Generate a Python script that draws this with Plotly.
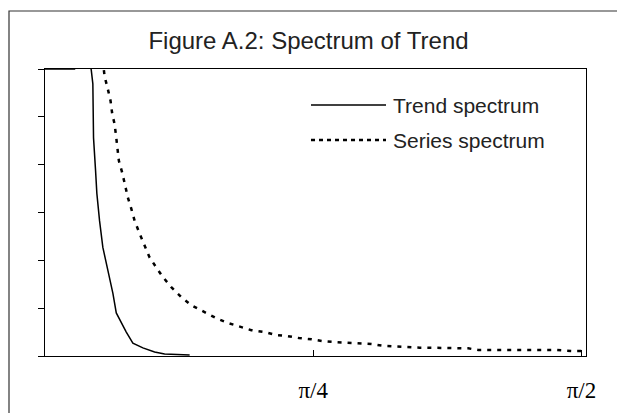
import math
import plotly.graph_objects as go

# frequency (radians) and spectral density
trend_freq = [0.000, 0.0865, 0.110, 0.1354, 0.1401, 0.1421, 0.1480, 0.1518, 0.1597, 0.1694,
              0.1841, 0.1988, 0.2087, 0.2233, 0.2380, 0.2573, 0.2866, 0.3209, 0.3502, 0.4235]
trend_spec = [6.0, 6.0, 7.0, 5.98, 5.69, 4.56, 3.88, 3.40, 2.83, 2.27,
              1.79, 1.31, 0.90, 0.69, 0.50, 0.27, 0.17, 0.083, 0.042, 0.02]

series_freq = [0.1627, 0.1744, 0.1840, 0.1920, 0.1969, 0.2037, 0.2087, 0.2163, 0.2262, 0.2350,
               0.2427, 0.2526, 0.2623, 0.2769, 0.2916, 0.3062, 0.3259, 0.3452, 0.3698, 0.3991,
               0.4285, 0.4624, 0.5017, 0.5357, 0.5680, 0.6043, 0.6433, 0.6755, 0.7069, 0.7438,
               0.7801, 0.8141, 0.8484, 0.8827, 0.9217, 0.9560, 0.9900, 1.0292, 1.0623, 1.0975,
               1.1318, 1.1658, 1.2001, 1.2391, 1.2684, 1.3027, 1.3416, 1.3809, 1.4199, 1.4589,
               1.4981, 1.5468, 1.5708]
series_spec = [6.6, 5.85, 5.58, 5.33, 5.06, 4.85, 4.56, 4.08, 3.83, 3.56,
               3.31, 3.08, 2.83, 2.56, 2.31, 2.06, 1.85, 1.65, 1.44, 1.23,
               1.06, 0.94, 0.79, 0.69, 0.625, 0.54, 0.50, 0.44, 0.42, 0.375,
               0.35, 0.31, 0.29, 0.28, 0.26, 0.25, 0.215, 0.195, 0.18, 0.175,
               0.173, 0.167, 0.167, 0.16, 0.125, 0.125, 0.125, 0.125, 0.125, 0.125,
               0.125, 0.104, 0.104]

x_ticks = [math.pi / 4, math.pi / 2]
x_labels = ["π/4", "π/2"]

fig = go.Figure()
fig.add_trace(go.Scatter(x=trend_freq, y=trend_spec, mode="lines", name="Trend spectrum",
                         line=dict(color="black", width=1.5)))
fig.add_trace(go.Scatter(x=series_freq, y=series_spec, mode="lines", name="Series spectrum",
                         line=dict(color="black", width=2.5, dash="4px,6px")))

fig.update_layout(
    width=617, height=413,
    margin=dict(l=45, r=31, t=69, b=57),
    paper_bgcolor="white", plot_bgcolor="white",
    showlegend=False,
    font=dict(family="Liberation Sans", color="black"),
    title=dict(text="Figure A.2: Spectrum of Trend", x=0.5, xref="container",
               y=1 - 41 / 413, yanchor="middle", font=dict(size=24, color="#222")),
)
fig.update_xaxes(range=[0, 1.584], tickvals=x_ticks, ticktext=x_labels,
                 ticks="inside", ticklen=6, tickcolor="black", automargin=False,
                 showgrid=False, zeroline=False, showline=True, linecolor="black",
                 linewidth=1, mirror=True, ticklabelstandoff=13,
                 tickfont=dict(family="Liberation Serif", size=23, color="black"))
fig.update_yaxes(range=[0, 6], tickvals=[0, 1, 2, 3, 4, 5, 6], showticklabels=False,
                 ticks="outside", ticklen=6, tickcolor="black", automargin=False,
                 showgrid=False, zeroline=False, showline=True, linecolor="black",
                 linewidth=1, mirror=True)

# hand-drawn legend, as in the original
def px_x(p):
    return (p - 45) / 541

def px_y(p):
    return (356 - p) / 287

for yy, dash, w, label in [(105, "solid", 1.5, "Trend spectrum"), (140, "4px,4px", 2.5, "Series spectrum")]:
    fig.add_shape(type="line", xref="paper", yref="paper",
                  x0=px_x(311), x1=px_x(386), y0=px_y(yy), y1=px_y(yy),
                  line=dict(color="black", width=w, dash=dash))
    fig.add_annotation(xref="paper", yref="paper", x=px_x(391), y=px_y(yy),
                       xanchor="left", yanchor="middle", showarrow=False,
                       text=label, font=dict(size=21, color="#222"))

# outer chart frame
fig.add_shape(type="rect", xref="paper", yref="paper",
              x0=px_x(9), x1=px_x(620), y0=px_y(425), y1=px_y(11),
              line=dict(color="#333", width=1.2), layer="below")

fig.write_html("out.html", config={"displayModeBar": False},
               post_script="document.body.style.margin='0';")
